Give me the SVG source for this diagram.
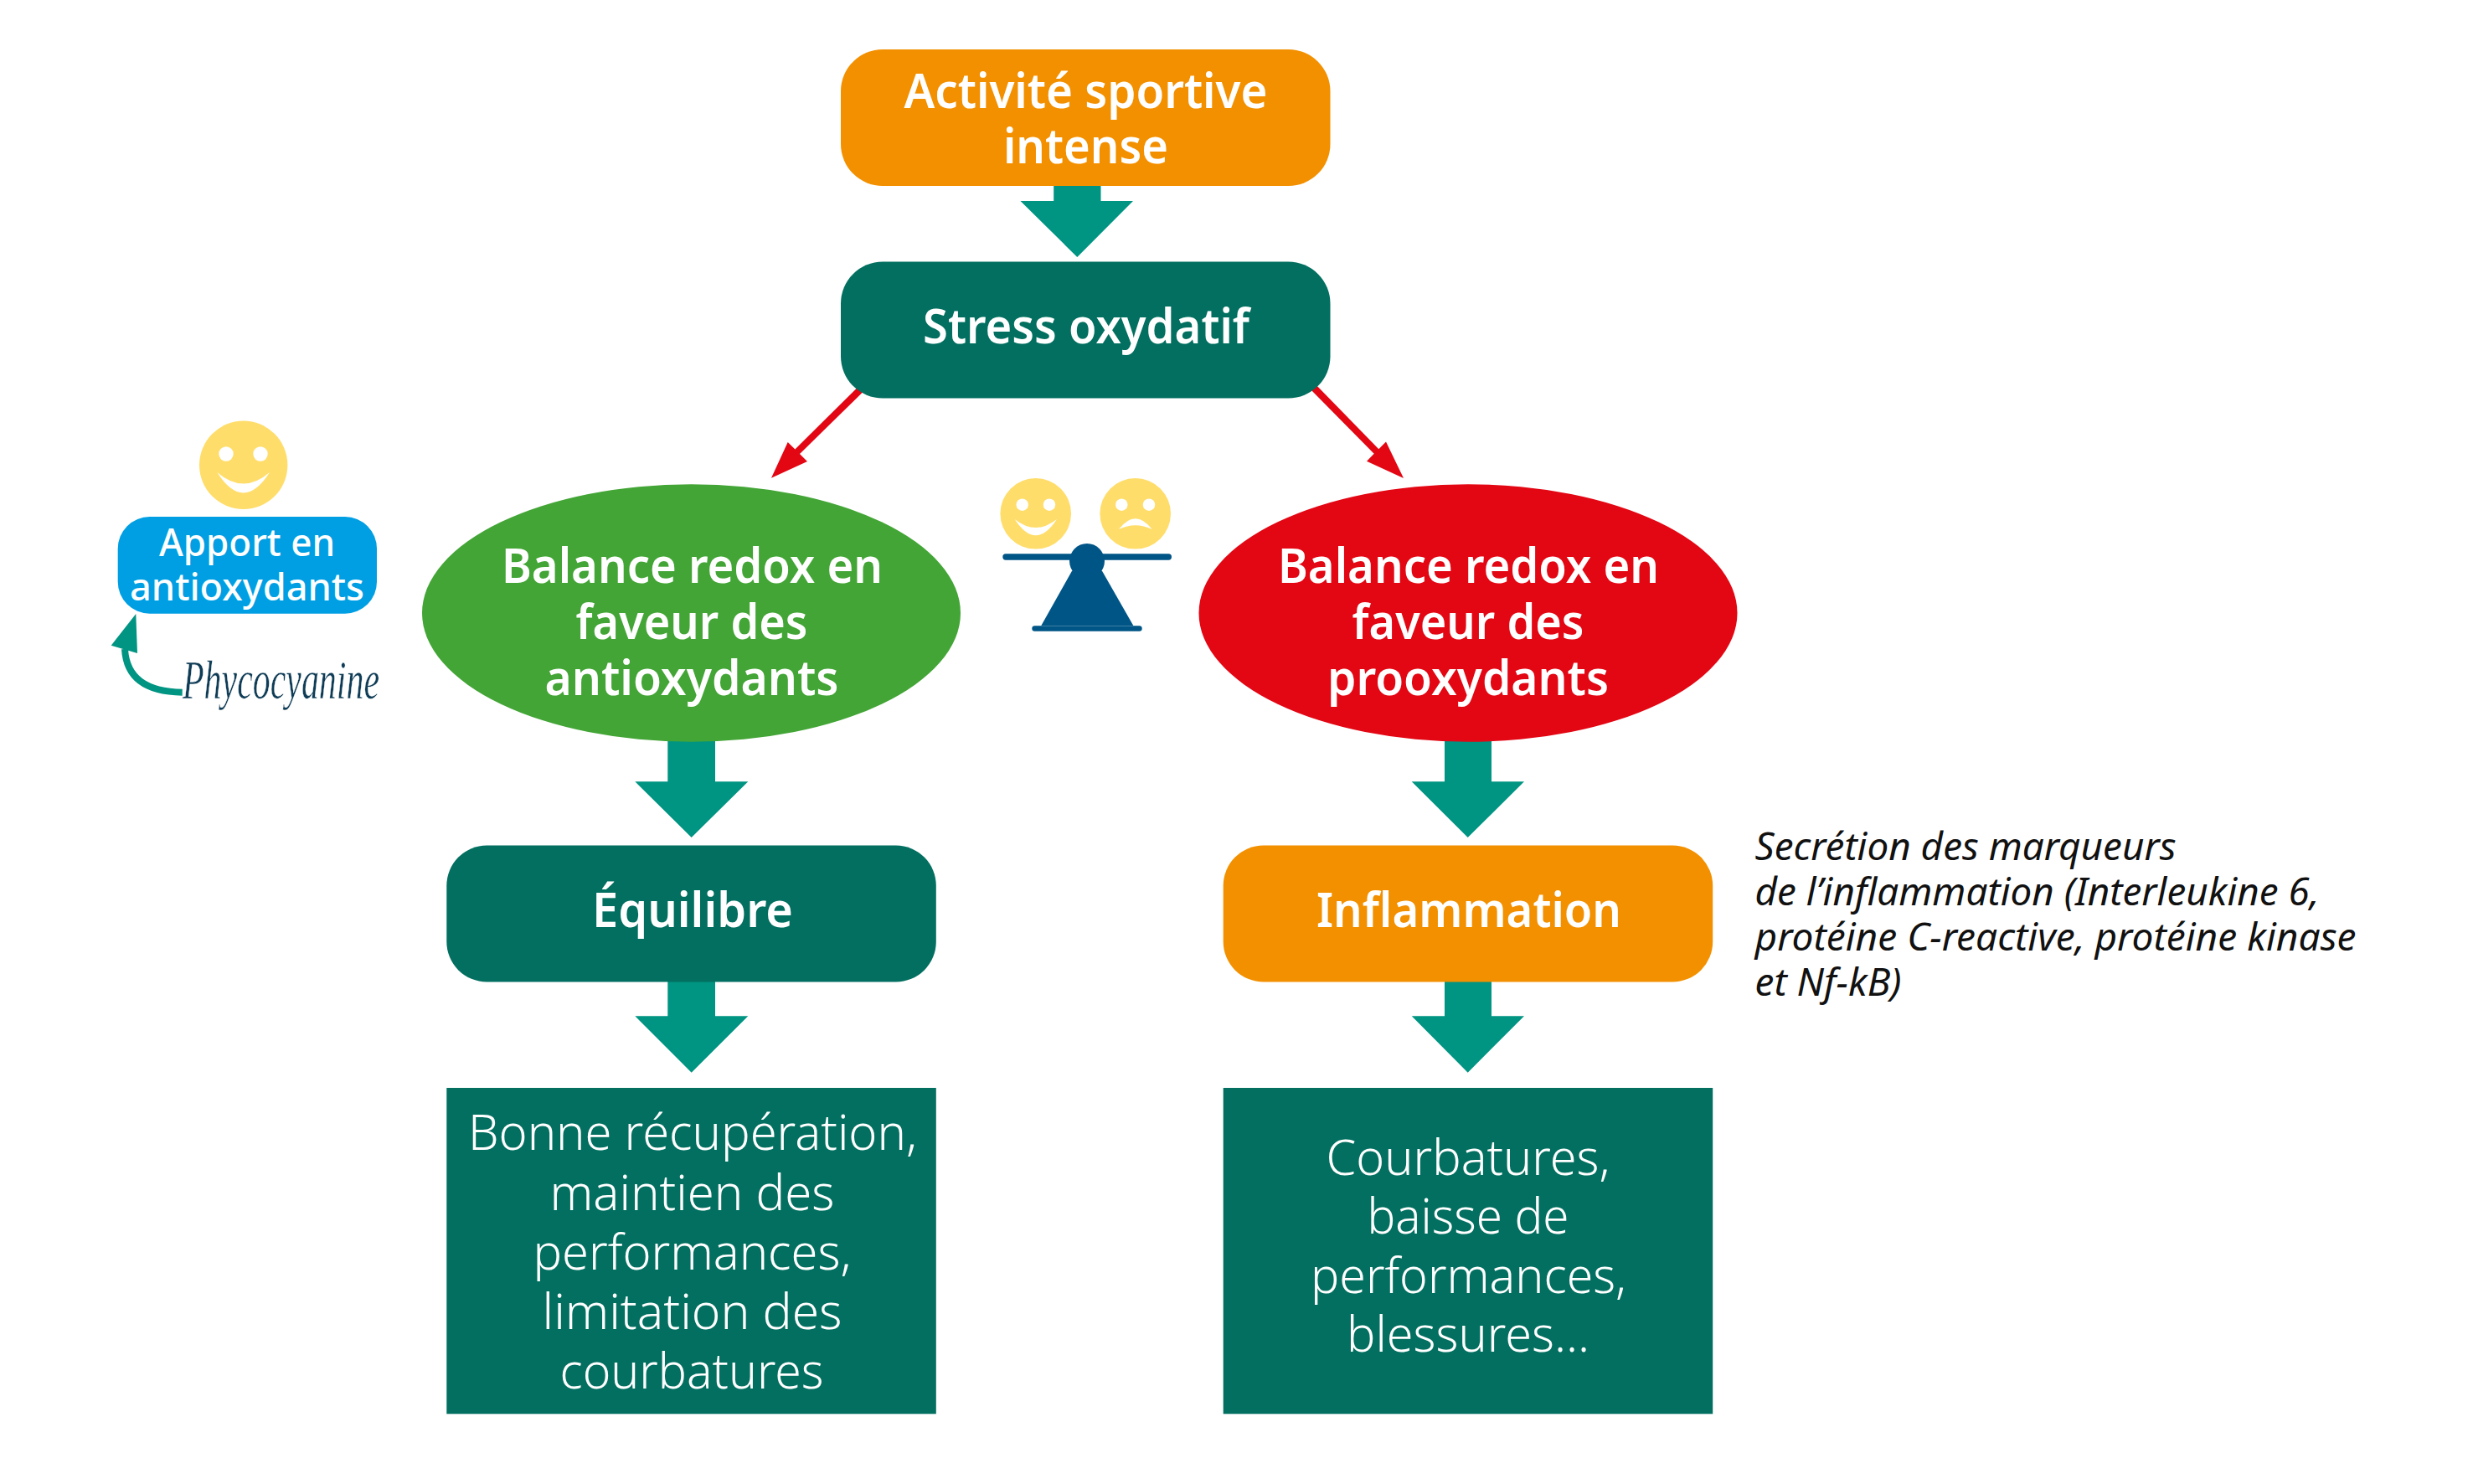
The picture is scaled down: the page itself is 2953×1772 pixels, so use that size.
<svg xmlns="http://www.w3.org/2000/svg" width="2953" height="1772" viewBox="0 0 2953 1772">
<style>
text{font-family:"Noto Sans","Open Sans",sans-serif;fill:#fff;text-anchor:middle}
.b{font-weight:600;font-size:58px}
.l{font-weight:300;font-size:58px}
.s{font-weight:500;font-size:45px}
.i{font-style:italic;font-weight:400;font-size:46px;fill:#111;text-anchor:start}
.p{font-family:"Liberation Serif",serif;font-style:italic;font-size:66px;fill:#0f3c56;stroke:#fff;stroke-width:.6px;text-anchor:start}
.o{fill:#f39000}.g{fill:#026f60}.t{fill:#009482}.r{fill:#e30613}.y{fill:#ffdd6b}.w{fill:#fff}.n{fill:#005587}
</style>
<rect width="2953" height="1772" fill="#fff"/>
<g id="connectors">
<path id="red-left" class="r" d="M1029 457.5L1035 463.5L955 542L964 551L921 570.7L940.7 528L949.4 536.4Z"/>
<path id="red-right" class="r" d="M1569 457L1563 463L1640.7 541.8L1632 550.7L1676 571L1655 527.5L1646.3 536.2Z"/>
<path class="t" d="M1258.2 221H1314.5V240H1353L1286.3 307L1218.5 240H1258.2Z"/>
<path class="t" d="M797.3 885H854V933.3H893.3L825.7 1000L758.3 933.3H797.3Z"/>
<path class="t" d="M1725 885H1781V933.3H1820L1752.7 1000L1685.7 933.3H1725Z"/>
<path class="t" d="M797.3 1172H854V1213.3H893.3L825.7 1280.7L758.3 1213.3H797.3Z"/>
<path class="t" d="M1725 1172H1781V1213.3H1820L1752.7 1280.7L1685.7 1213.3H1725Z"/>
<path id="phyco-arrow" d="M217.7 826.7C175 826 151 810 149 775" fill="none" stroke="#009482" stroke-width="8"/>
<path class="t" d="M162.3 733L132.7 770.7L164 780Z"/>
</g>
<g id="activite"><rect class="o" x="1004" y="59" width="584.5" height="163" rx="50"/>
<text class="b" x="1296.5" y="129.3" textLength="434" lengthAdjust="spacingAndGlyphs">Activité sportive</text>
<text class="b" x="1296.5" y="195.4" textLength="197" lengthAdjust="spacingAndGlyphs">intense</text></g>
<g id="stress"><rect class="g" x="1004" y="312.5" width="584.5" height="163" rx="50"/>
<text class="b" x="1297" y="409.6" textLength="390" lengthAdjust="spacingAndGlyphs">Stress oxydatif</text></g>
<g id="apport">
<circle class="y" cx="290.7" cy="555.3" r="52.7"/><circle class="w" cx="270" cy="542" r="8.7"/><circle class="w" cx="311" cy="542" r="8.7"/>
<path class="w" d="M259.3 564Q290.7 613 322 564Q290.7 591 259.3 564Z"/>
<rect x="140.7" y="617" width="309.3" height="115.7" rx="38" fill="#009fe3"/>
<text class="s" x="295" y="664" textLength="210" lengthAdjust="spacingAndGlyphs">Apport en</text>
<text class="s" x="295" y="716.7" textLength="280" lengthAdjust="spacingAndGlyphs">antioxydants</text></g>
<g id="phycocyanine"><text class="p" x="218" y="834" textLength="235" lengthAdjust="spacingAndGlyphs">Phycocyanine</text></g>
<g id="balance-icon">
<circle class="y" cx="1236.7" cy="613.3" r="42.3"/><circle class="w" cx="1220.7" cy="602.7" r="7.2"/><circle class="w" cx="1253" cy="602.7" r="7.2"/>
<path class="w" d="M1211.7 620Q1236.7 658.6 1262 620Q1236.7 640 1211.7 620Z"/>
<circle class="y" cx="1355.7" cy="613.3" r="42.3"/><circle class="w" cx="1339.3" cy="602.7" r="7.2"/><circle class="w" cx="1372" cy="602.7" r="7.2"/>
<path class="w" d="M1336 632Q1355.7 606.6 1375.7 632Q1355.7 622.6 1336 632Z"/>
<rect class="n" x="1197.3" y="661.3" width="201.7" height="7.4" rx="3.7"/>
<circle class="n" cx="1298" cy="670" r="21"/>
<path class="n" d="M1280 681.7H1316L1353.3 747H1243.3Z"/>
<rect class="n" x="1232.3" y="747.3" width="131.4" height="6.4" rx="3.2"/></g>
<g id="balance-anti"><ellipse cx="825.5" cy="732" rx="321.5" ry="153.7" fill="#43a536"/>
<text class="b" x="826.5" y="696" textLength="455" lengthAdjust="spacingAndGlyphs">Balance redox en</text>
<text class="b" x="826" y="762.7" textLength="277" lengthAdjust="spacingAndGlyphs">faveur des</text>
<text class="b" x="826" y="830" textLength="351" lengthAdjust="spacingAndGlyphs">antioxydants</text></g>
<g id="balance-pro"><ellipse class="r" cx="1753" cy="732" rx="321.5" ry="153.7"/>
<text class="b" x="1753.5" y="696" textLength="455" lengthAdjust="spacingAndGlyphs">Balance redox en</text>
<text class="b" x="1753" y="762.7" textLength="277" lengthAdjust="spacingAndGlyphs">faveur des</text>
<text class="b" x="1753" y="830" textLength="336" lengthAdjust="spacingAndGlyphs">prooxydants</text></g>
<g id="equilibre"><rect class="g" x="533.3" y="1009.5" width="584.5" height="163" rx="48"/>
<text class="b" x="827" y="1106.7" textLength="240" lengthAdjust="spacingAndGlyphs">Équilibre</text></g>
<g id="inflammation"><rect class="o" x="1460.7" y="1009.5" width="584.5" height="163" rx="48"/>
<text class="b" x="1754" y="1106.5" textLength="364" lengthAdjust="spacingAndGlyphs">Inflammation</text></g>
<g id="recuperation"><rect class="g" x="533.3" y="1299" width="584.5" height="389.3"/>
<text class="l" x="827" y="1373.3" textLength="536" lengthAdjust="spacingAndGlyphs">Bonne récupération,</text>
<text class="l" x="826.5" y="1445" textLength="340" lengthAdjust="spacingAndGlyphs">maintien des</text>
<text class="l" x="826.5" y="1516" textLength="380" lengthAdjust="spacingAndGlyphs">performances,</text>
<text class="l" x="826.5" y="1586.7" textLength="358" lengthAdjust="spacingAndGlyphs">limitation des</text>
<text class="l" x="826" y="1657.7" textLength="315" lengthAdjust="spacingAndGlyphs">courbatures</text></g>
<g id="courbatures"><rect class="g" x="1460.7" y="1299" width="584.5" height="389.3"/>
<text class="l" x="1753" y="1403" textLength="339" lengthAdjust="spacingAndGlyphs">Courbatures,</text>
<text class="l" x="1753" y="1473" textLength="241" lengthAdjust="spacingAndGlyphs">baisse de</text>
<text class="l" x="1753.5" y="1543.7" textLength="377" lengthAdjust="spacingAndGlyphs">performances,</text>
<text class="l" x="1753" y="1614" textLength="290" lengthAdjust="spacingAndGlyphs">blessures...</text></g>
<g id="marqueurs">
<text class="i" x="2095.5" y="1026.7" textLength="503" lengthAdjust="spacingAndGlyphs">Secrétion des marqueurs</text>
<text class="i" x="2095.5" y="1080.7" textLength="674" lengthAdjust="spacingAndGlyphs">de l’inflammation (Interleukine 6,</text>
<text class="i" x="2095.5" y="1135" textLength="718" lengthAdjust="spacingAndGlyphs">protéine C-reactive, protéine kinase</text>
<text class="i" x="2095.5" y="1189" textLength="175" lengthAdjust="spacingAndGlyphs">et Nf-kB)</text></g>
</svg>
